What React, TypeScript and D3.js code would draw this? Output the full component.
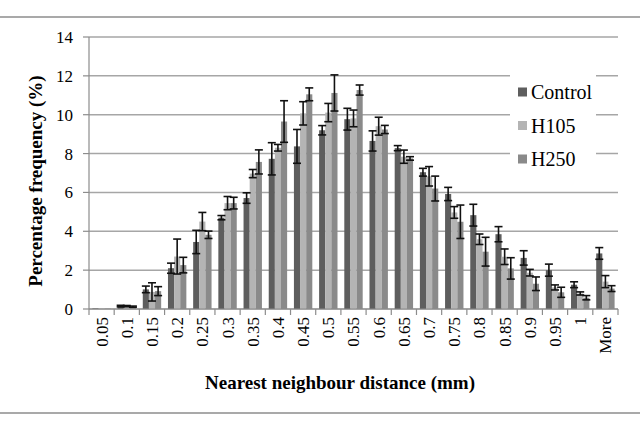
import React from "react";
import * as d3 from "d3";

const categories = ["0.05", "0.1", "0.15", "0.2", "0.25", "0.3", "0.35", "0.4", "0.45", "0.5", "0.55",
  "0.6", "0.65", "0.7", "0.75", "0.8", "0.85", "0.9", "0.95", "1", "More"];
const seriesNames = ["Control", "H105", "H250"];
const control = [0.03, 0.15, 1.01, 2.1, 3.45, 4.7, 5.71, 7.73, 8.37, 9.2, 9.77, 8.65, 8.28, 7.04, 5.92, 4.83, 3.85, 2.63, 2.0, 1.25, 2.86];
const controlErr = [0, 0.04, 0.17, 0.26, 0.6, 0.11, 0.27, 0.83, 0.87, 0.24, 0.56, 0.52, 0.13, 0.2, 0.34, 0.56, 0.39, 0.37, 0.31, 0.15, 0.3];
const h105 = [0.02, 0.15, 0.88, 2.7, 4.5, 5.45, 6.97, 8.3, 10.07, 10.11, 9.81, 9.41, 7.84, 6.83, 4.97, 3.59, 2.69, 1.87, 1.11, 0.8, 1.41];
const h105Err = [0, 0.03, 0.47, 0.9, 0.47, 0.34, 0.21, 0.17, 0.6, 0.47, 0.43, 0.46, 0.34, 0.5, 0.3, 0.27, 0.4, 0.17, 0.13, 0.08, 0.31];
const h250 = [0.02, 0.12, 0.92, 2.26, 3.82, 5.45, 7.57, 9.65, 11.05, 11.12, 11.27, 9.24, 7.75, 6.2, 4.49, 2.95, 2.09, 1.3, 0.86, 0.58, 1.05];
const h250Err = [0, 0.03, 0.23, 0.4, 0.19, 0.3, 0.62, 1.07, 0.33, 0.93, 0.26, 0.21, 0.09, 0.64, 0.86, 0.74, 0.55, 0.35, 0.26, 0.11, 0.15];
const yTicks = [0, 2, 4, 6, 8, 10, 12, 14];

const values = [control, h105, h250];
const errors = [controlErr, h105Err, h250Err];
const colors = ["#5e5e5e", "#b4b4b4", "#8a8a8a"];

export default function App() {
  const width = 640;
  const height = 430;
  const left = 89;
  const right = 618;
  const top = 37;
  const bottom = 309;
  const font = "'Liberation Serif', 'Times New Roman', serif";

  // one band per bin, three touching bars inside it
  const x0 = d3.scaleBand().domain(categories).range([left, right]).paddingInner(0.27).paddingOuter(0.135);
  const step = (right - left) / categories.length;
  const x1 = d3.scaleBand().domain(seriesNames).range([0, x0.bandwidth()]);
  const y = d3.scaleLinear().domain([0, 14]).range([bottom, top]);
  const cap = 4;

  return (
    <svg width={width} height={height} style={{position: "absolute", left: 0, top: 0, background: "#fff"}}>
      <line x1={0} x2={width} y1={17} y2={17} stroke="#8c8c8c" strokeWidth={1.5}/>
      <line x1={0} x2={width} y1={413} y2={413} stroke="#8c8c8c" strokeWidth={1.5}/>

      {yTicks.map(t => (
        <g key={t}>
          <line x1={left} x2={right} y1={y(t)} y2={y(t)} stroke="#a6a6a6" strokeWidth={1.5}/>
          <line x1={left - 6} x2={left} y1={y(t)} y2={y(t)} stroke="#8c8c8c" strokeWidth={1.2}/>
          <text x={73} y={y(t)} dy="0.35em" textAnchor="end" fontFamily={font} fontSize={17}>{t}</text>
        </g>
      ))}

      {categories.map((c, i) => (
        <g key={c}>
          {values.map((vals, s) => {
            const xb = (x0(c) as number) + (x1(seriesNames[s]) as number);
            return (
              <rect key={s} x={xb} y={y(vals[i])} width={x1.bandwidth()} height={bottom - y(vals[i])} fill={colors[s]}/>
            );
          })}
        </g>
      ))}

      {categories.map((c, i) => (
        <g key={c + "-err"}>
          {values.map((vals, s) => {
            const e = errors[s][i];
            if (!e) return null;
            const cx = (x0(c) as number) + (x1(seriesNames[s]) as number) + x1.bandwidth() / 2;
            const y1 = y(vals[i] + e);
            const y2 = y(vals[i] - e);
            return (
              <g key={s} stroke="#111" strokeWidth={1.6}>
                <line x1={cx} x2={cx} y1={y1} y2={y2}/>
                <line x1={cx - cap} x2={cx + cap} y1={y1} y2={y1}/>
                <line x1={cx - cap} x2={cx + cap} y1={y2} y2={y2}/>
              </g>
            );
          })}
        </g>
      ))}

      <line x1={left} x2={left} y1={top} y2={bottom} stroke="#8c8c8c" strokeWidth={1.2}/>
      <line x1={left} x2={right} y1={bottom} y2={bottom} stroke="#8c8c8c" strokeWidth={1.2}/>
      {d3.range(categories.length + 1).map(i => (
        <line key={i} x1={left + i * step} x2={left + i * step} y1={bottom} y2={bottom + 6} stroke="#8c8c8c" strokeWidth={1.2}/>
      ))}
      {categories.map(c => {
        const cx = (x0(c) as number) + x0.bandwidth() / 2;
        return (
          <text key={c} transform={`translate(${cx},${bottom + 8}) rotate(-90)`} dy="0.35em" textAnchor="end"
            fontFamily={font} fontSize={17}>{c}</text>
        );
      })}

      <text transform={`translate(42,181) rotate(-90)`} textAnchor="middle" fontFamily={font}
        fontSize={19} fontWeight="bold">Percentage frequency (%)</text>
      <text x={340} y={389} textAnchor="middle" fontFamily={font} fontSize={19}
        fontWeight="bold">Nearest neighbour distance (mm)</text>

      <rect x={510} y={74} width={86} height={100} fill="#fff"/>
      {seriesNames.map((n, s) => (
        <g key={n} transform={`translate(518,${92 + s * 33.5})`}>
          <rect x={0} y={-4.5} width={9} height={9} fill={colors[s]}/>
          <text x={13} dy="0.35em" fontFamily={font} fontSize={20}>{n}</text>
        </g>
      ))}
    </svg>
  );
}
